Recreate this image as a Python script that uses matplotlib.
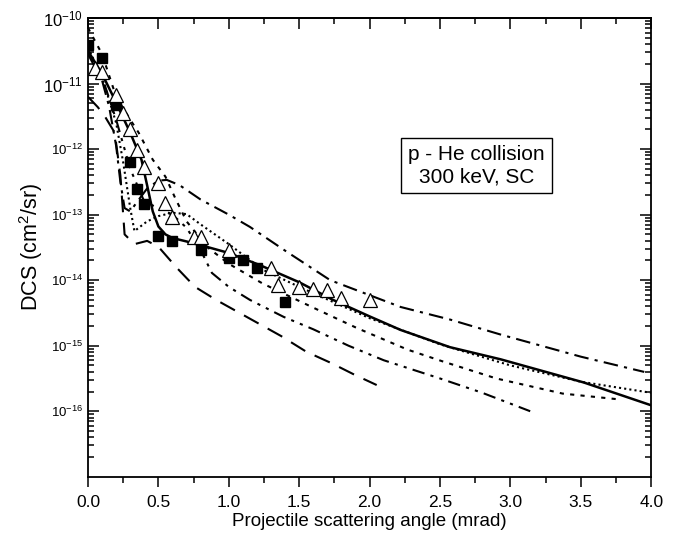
import matplotlib
matplotlib.use("Agg")
import matplotlib.pyplot as plt
from matplotlib.ticker import FixedLocator, NullFormatter

plt.rcParams['font.family'] = ['Liberation Sans', 'DejaVu Sans']
plt.rcParams['mathtext.default'] = 'regular'

# angle (mrad) / DCS (cm^2/sr)
x_solid = [0, 0.1, 0.18, 0.3, 0.38, 0.42, 0.46, 0.5, 0.55, 0.6, 0.7, 0.85, 1.0, 1.22, 1.5, 1.74, 2.0, 2.22, 2.57, 2.93, 3.52, 4.0]
y_solid = [3.16e-11, 1.41e-11, 6.3e-12, 1.78e-12, 6.9e-13, 2.8e-13, 1.12e-13, 6.6e-14, 5.0e-14, 4.4e-14, 3.9e-14,
           3.2e-14, 2.6e-14, 1.7e-14, 9.3e-15, 5.0e-15, 2.8e-15, 1.74e-15, 9.5e-16, 6.2e-16, 2.75e-16, 1.23e-16]

x_dot = [0, 0.1, 0.2, 0.25, 0.3, 0.33, 0.36, 0.42, 0.5, 0.6, 0.7, 0.8, 1.0, 1.24, 1.5, 2.0, 2.5, 3.0, 3.5, 4.0]
y_dot = [3.55e-11, 1.26e-11, 2.51e-12, 6.3e-13, 1.26e-13, 5.6e-14, 6.3e-14, 7.9e-14, 9.5e-14, 1.07e-13, 1.02e-13,
         7.1e-14, 3.55e-14, 1.45e-14, 7.9e-15, 2.63e-15, 1.05e-15, 5.0e-16, 2.82e-16, 1.91e-16]

x_sdash = [0, 0.1, 0.2, 0.3, 0.36, 0.46, 0.55, 0.62, 0.7, 0.85, 1.0, 1.24, 1.51, 1.63, 1.91, 2.27, 2.52, 2.9, 3.37, 3.78]
y_sdash = [7.1e-11, 2.82e-11, 6.3e-12, 2.82e-12, 1.78e-12, 6.9e-13, 3.8e-13, 1.78e-13, 7.9e-14, 3.16e-14, 1.78e-14,
           8.9e-15, 4.7e-15, 3.55e-15, 1.86e-15, 8.7e-16, 5.75e-16, 3.16e-16, 1.86e-16, 1.51e-16]

x_dashdot = [0, 0.1, 0.15, 0.2, 0.23, 0.26, 0.3, 0.35, 0.42, 0.5, 0.56, 0.65, 0.8, 1.0, 1.15, 1.4, 1.72, 2.22, 2.57, 2.93, 3.5, 3.95]
y_dashdot = [2.82e-11, 1.12e-11, 4.47e-12, 1.12e-12, 3.16e-13, 1.26e-13, 1.12e-13, 1.58e-13, 2.51e-13, 3.31e-13, 3.39e-13,
             2.82e-13, 1.70e-13, 1.0e-13, 6.5e-14, 2.82e-14, 1.0e-14, 3.9e-15, 2.51e-15, 1.48e-15, 6.8e-16, 3.98e-16]

x_dashdotdot = [0, 0.1, 0.2, 0.3, 0.4, 0.5, 0.6, 0.7, 0.8, 0.88, 1.0, 1.15, 1.39, 1.6, 1.85, 2.1, 2.5, 2.8, 3.14]
y_dashdotdot = [3.16e-11, 1.26e-11, 2.82e-12, 5.0e-13, 1.58e-13, 1.26e-13, 1.0e-13, 6.3e-14, 2.88e-14, 1.29e-14, 7.9e-15,
                5.0e-15, 2.75e-15, 1.78e-15, 1.0e-15, 6.0e-16, 3.16e-16, 1.91e-16, 1.0e-16]

x_ldash = [0, 0.07, 0.12, 0.19, 0.23, 0.26, 0.33, 0.42, 0.5, 0.63, 0.76, 0.91, 1.06, 1.21, 1.37, 1.55, 1.73, 1.89, 2.05]
y_ldash = [6.3e-12, 4.37e-12, 3.16e-12, 1.78e-12, 3.98e-13, 5.0e-14, 3.55e-14, 3.98e-14, 3.24e-14, 1.55e-14, 7.9e-15,
           5.0e-15, 3.31e-15, 2.19e-15, 1.41e-15, 8.1e-16, 5.4e-16, 3.63e-16, 2.51e-16]

# experimental points
x_sq = [0, 0.1, 0.2, 0.3, 0.35, 0.4, 0.5, 0.6, 0.8, 1.0, 1.1, 1.2, 1.4]
y_sq = [3.9e-11, 2.45e-11, 4.7e-12, 6.3e-13, 2.45e-13, 1.45e-13, 4.8e-14, 3.9e-14, 2.9e-14, 2.2e-14, 2.0e-14, 1.55e-14, 4.7e-15]

x_tri = [0.05, 0.1, 0.2, 0.25, 0.3, 0.35, 0.4, 0.5, 0.55, 0.6, 0.75, 0.8, 1.0, 1.3, 1.35, 1.5, 1.6, 1.7, 1.8, 2.0]
y_tri = [1.74e-11, 1.51e-11, 6.8e-12, 3.55e-12, 2.04e-12, 9.8e-13, 5.4e-13, 3.0e-13, 1.51e-13, 9.3e-14, 4.5e-14, 4.5e-14,
         2.9e-14, 1.55e-14, 8.5e-15, 7.9e-15, 7.4e-15, 7.1e-15, 5.4e-15, 5.0e-15]

fig = plt.figure(figsize=(6.82, 5.48), dpi=100)
ax = fig.add_axes([0.129, 0.13, 0.826, 0.837])

ax.plot(x_solid, y_solid, color='black', lw=1.8, ls='-')
ax.plot(x_dot, y_dot, color='black', lw=1.5, ls=(0, (1, 1.5)))
ax.plot(x_sdash, y_sdash, color='black', lw=1.5, ls=(0, (2, 3)))
ax.plot(x_dashdot, y_dashdot, color='black', lw=1.5, ls=(0, (7, 3, 1.5, 3)))
ax.plot(x_dashdotdot, y_dashdotdot, color='black', lw=1.5, ls=(0, (6, 3, 1.5, 3, 1.5, 3)))
ax.plot(x_ldash, y_ldash, color='black', lw=1.5, ls=(0, (8, 5)))

ax.plot(x_sq, y_sq, ls='none', marker='s', ms=7.5, mfc='black', mec='black')
ax.plot(x_tri, y_tri, ls='none', marker='^', ms=10, mfc='white', mec='black', mew=0.9)

ax.set_yscale('log')
ax.set_xlim(0, 4.0)
ax.set_ylim(1e-17, 1e-10)

ax.set_xticks([0, 0.5, 1.0, 1.5, 2.0, 2.5, 3.0, 3.5, 4.0])
ax.set_xticklabels(['0.0', '0.5', '1.0', '1.5', '2.0', '2.5', '3.0', '3.5', '4.0'], fontsize=12.5)
ax.xaxis.set_minor_locator(FixedLocator([0.25, 0.75, 1.25, 1.75, 2.25, 2.75, 3.25, 3.75]))

decades = [-16, -15, -14, -13, -12, -11, -10]
ax.yaxis.set_major_locator(FixedLocator([10.0 ** d for d in decades]))
ax.set_yticklabels(['$10^{%d}$' % d for d in decades])
for lab, d in zip(ax.get_yticklabels(), decades):
    lab.set_fontsize(12 if d >= -11 else 9.5)
minors = [m * 10.0 ** d for d in range(-17, -10) for m in range(2, 10)]
ax.yaxis.set_minor_locator(FixedLocator(minors))
ax.yaxis.set_minor_formatter(NullFormatter())

ax.tick_params(axis='y', which='both', direction='in', left=True, right=True, width=1.1)
ax.tick_params(axis='y', which='major', length=8)
ax.tick_params(axis='y', which='minor', length=4)
ax.tick_params(axis='x', which='both', direction='out', bottom=True, top=False, width=1.1)
ax.tick_params(axis='x', which='major', length=7, pad=6)
ax.tick_params(axis='x', which='minor', length=4)

# top ticks point inward
top = ax.secondary_xaxis('top')
top.set_xticks([0, 0.5, 1.0, 1.5, 2.0, 2.5, 3.0, 3.5, 4.0])
top.xaxis.set_minor_locator(FixedLocator([0.25, 0.75, 1.25, 1.75, 2.25, 2.75, 3.25, 3.75]))
top.tick_params(axis='x', which='both', direction='in', labeltop=False, width=1.1)
top.tick_params(axis='x', which='major', length=8)
top.tick_params(axis='x', which='minor', length=4)

for sp in ax.spines.values():
    sp.set_linewidth(1.3)
top.spines['top'].set_linewidth(1.3)

ax.set_xlabel('Projectile scattering angle (mrad)', fontsize=13.5, labelpad=2)
ax.set_ylabel('DCS (cm$^2$/sr)', fontsize=15.5, labelpad=-1)

ax.text(2.76, 5.6e-13, 'p - He collision\n300 keV, SC', fontsize=15, ha='center', va='center',
        linespacing=1.2, bbox=dict(boxstyle='square,pad=0.35', fc='white', ec='black', lw=1.0))

fig.savefig('out.png', dpi=100)
